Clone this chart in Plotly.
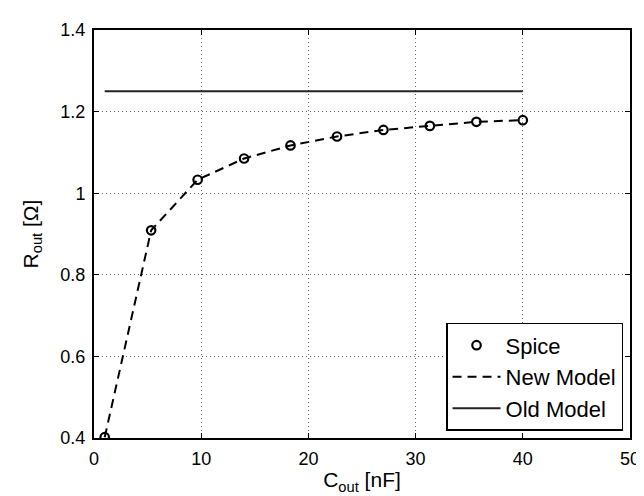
import plotly.graph_objects as go

# Data
c_out = [1.0, 5.33, 9.67, 14.0, 18.33, 22.67, 27.0, 31.33, 35.67, 40.0]
spice = [0.402, 0.909, 1.033, 1.085, 1.117, 1.139, 1.155, 1.165, 1.175, 1.179]
new_model = [0.402, 0.909, 1.033, 1.085, 1.117, 1.139, 1.155, 1.165, 1.175, 1.179]
old_x = [1.0, 40.0]
old_model = [1.25, 1.25]

x_ticks = [0, 10, 20, 30, 40, 50]
y_ticks = [0.4, 0.6, 0.8, 1.0, 1.2, 1.4]
y_tick_labels = ["0.4", "0.6", "0.8", "1", "1.2", "1.4"]

FONT = "Liberation Sans, Arial, Helvetica, sans-serif"

fig = go.Figure()
fig.add_trace(go.Scatter(
    x=c_out, y=spice, mode="markers", name="Spice",
    marker=dict(symbol="circle-open", size=8.5, color="black", line=dict(width=2.2, color="black")),
))
fig.add_trace(go.Scatter(
    x=c_out, y=new_model, mode="lines", name="New Model",
    line=dict(color="black", width=2, dash="9px,6px"),
))
fig.add_trace(go.Scatter(
    x=old_x, y=old_model, mode="lines", name="Old Model",
    line=dict(color="#222", width=2),
))

axis_common = dict(
    showline=True, linecolor="black", linewidth=2, mirror="ticks",
    ticks="inside", ticklen=5, tickwidth=1, tickcolor="black",
    showgrid=True, gridcolor="#666", gridwidth=1, griddash="1px,3px",
    zeroline=False, ticklabelstandoff=3,
    tickfont=dict(family=FONT, size=18, color="black"),
)

fig.update_layout(
    width=644, height=496,
    margin=dict(l=86, r=22, t=14, b=66),
    paper_bgcolor="white", plot_bgcolor="white",
    showlegend=True,
    legend=dict(
        x=0.987, y=0.0175, xanchor="right", yanchor="bottom",
        bgcolor="white", bordercolor="black", borderwidth=1.5,
        font=dict(family=FONT, size=22, color="black"),
        itemwidth=48, tracegroupgap=0,
    ),
    xaxis=dict(
        range=[0, 50], tickvals=x_ticks,
        title=dict(text="C<sub>out</sub> [nF]", font=dict(family=FONT, size=21, color="black"), standoff=5),
        **axis_common,
    ),
    yaxis=dict(
        range=[0.4, 1.4], tickvals=y_ticks, ticktext=y_tick_labels,
        title=dict(text="R<sub>out</sub> [Ω]", font=dict(family=FONT, size=21, color="black"), standoff=16),
        **axis_common,
    ),
)

fig.write_html("out.html")
